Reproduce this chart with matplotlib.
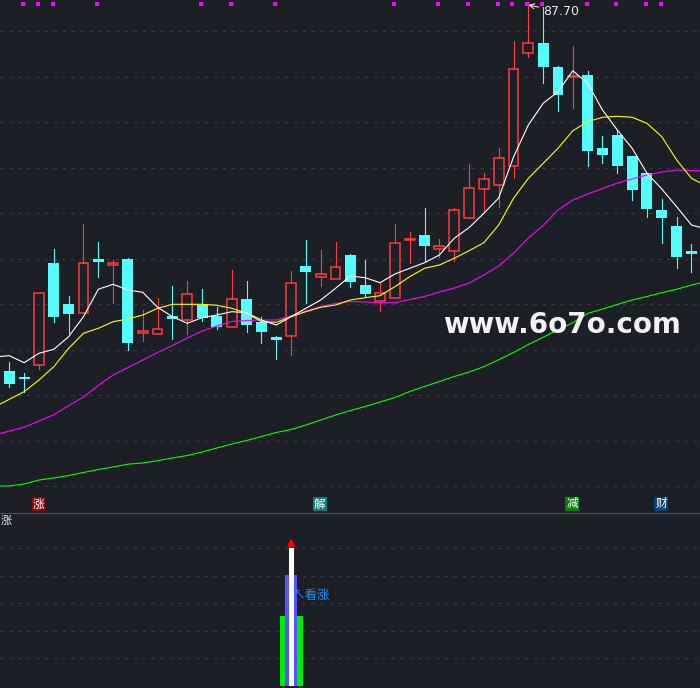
import numpy as np
import matplotlib
matplotlib.use('Agg')
import matplotlib.pyplot as plt
from matplotlib.patches import Rectangle

plt.rcParams['font.family'] = ['Noto Sans CJK SC', 'DejaVu Sans']

# daily candles, index 0 is the one cut off at the left edge
opens = [54.0, 51.1, 50.53, 51.67, 61.93, 57.8, 56.87, 62.27, 61.67, 62.3,
         54.87, 54.77, 56.6, 56.17, 57.7, 56.57, 55.47, 58.3, 56.0, 54.5,
         54.63, 61.6, 60.47, 60.27, 62.7, 59.7, 58.07, 58.37, 64.17, 64.7,
         63.27, 63.07, 66.43, 69.33, 69.67, 71.57, 82.87, 83.93, 81.53, 80.5,
         80.7, 73.4, 74.7, 72.6, 70.9, 67.2, 65.6, 63.1]
highs = [54.2, 52.0, 50.87, 58.87, 63.27, 58.6, 65.8, 64.0, 62.2, 62.4,
         57.2, 58.4, 59.6, 60.1, 59.27, 57.53, 61.2, 60.1, 56.47, 54.6,
         61.1, 64.2, 63.2, 64.0, 62.8, 62.2, 59.93, 65.8, 65.0, 67.4,
         64.33, 67.37, 71.8, 70.93, 73.4, 84.1, 87.7, 87.5, 81.63, 83.6,
         81.1, 74.6, 75.2, 72.6, 70.9, 68.3, 66.47, 63.8]
lows = [51.0, 49.53, 49.03, 51.33, 56.03, 54.93, 56.87, 60.53, 57.93, 53.2,
        54.13, 54.77, 54.27, 54.83, 56.13, 55.27, 55.47, 55.03, 53.93, 52.33,
        52.73, 57.93, 59.6, 60.27, 59.53, 58.63, 57.13, 58.37, 61.93, 62.13,
        62.47, 62.13, 66.43, 67.03, 67.53, 70.43, 82.47, 79.93, 77.13, 77.43,
        71.63, 71.93, 70.93, 68.23, 66.53, 63.93, 61.43, 61.03]
closes = [51.2, 49.8, 50.3, 58.87, 56.53, 56.83, 61.87, 62.03, 61.87, 53.93,
          55.07, 55.3, 56.27, 58.77, 56.43, 55.53, 58.27, 55.73, 55.03, 54.17,
          59.87, 61.03, 60.77, 61.47, 60.03, 58.83, 58.87, 63.87, 64.27, 63.63,
          63.6, 67.2, 69.37, 70.27, 72.37, 81.27, 83.87, 81.53, 78.7, 80.6,
          73.13, 72.73, 71.63, 69.2, 67.33, 66.43, 62.53, 62.77]

# moving averages (one extra point past the right edge)
ma5 = [52.5, 52.63, 51.93, 52.87, 53.27, 54.53, 56.53, 59.27, 59.77, 59.2,
       58.97, 57.47, 56.53, 55.87, 56.43, 56.7, 57.03, 56.93, 56.2, 55.7,
       56.53, 57.37, 58.2, 59.37, 60.6, 60.43, 59.93, 60.8, 61.37, 61.93,
       62.7, 64.37, 65.43, 66.87, 68.4, 72.5, 75.7, 77.87, 79.03, 81.13,
       79.87, 77.2, 75.2, 73.37, 70.87, 69.3, 67.53, 65.7, 65.3]
ma10 = [47.5, 48.27, 49.03, 50.2, 51.53, 53.37, 54.87, 55.37, 56.03, 56.3,
        56.7, 57.37, 57.77, 57.77, 57.77, 57.67, 57.37, 56.87, 56.03, 55.97,
        56.53, 57.03, 57.47, 57.7, 58.2, 58.43, 58.63, 59.53, 60.53, 61.37,
        61.7, 62.37, 63.13, 63.93, 65.7, 68.37, 70.37, 71.87, 73.37, 75.13,
        76.03, 76.47, 76.57, 76.47, 75.87, 74.53, 72.2, 70.37, 69.6]
ma20 = [44.7, 45.1, 45.47, 46.1, 46.73, 47.63, 48.5, 49.65, 50.7, 51.45,
        52.2, 52.95, 53.65, 54.4, 55.1, 55.6, 56.05, 56.15, 56.2, 56.2,
        56.6, 57.1, 57.55, 57.85, 58.05, 58.0, 57.93, 57.93, 58.25, 58.55,
        59.0, 59.4, 59.9, 60.7, 61.6, 62.9, 64.4, 65.65, 67.2, 68.2,
        68.8, 69.35, 69.9, 70.3, 70.7, 71.0, 71.2, 71.15, 71.1]
ma60 = [39.6, 39.6, 39.8, 40.2, 40.4, 40.65, 40.95, 41.25, 41.5, 41.78,
        41.9, 42.13, 42.4, 42.65, 43.0, 43.4, 43.8, 44.15, 44.55, 44.95,
        45.25, 45.7, 46.2, 46.7, 47.15, 47.55, 48.0, 48.45, 49.05, 49.55,
        50.05, 50.55, 51.0, 51.53, 52.23, 52.95, 53.75, 54.47, 55.23, 55.93,
        56.85, 57.3, 57.75, 58.2, 58.55, 58.93, 59.27, 59.7, 60.05]

signal_idx = [2, 3, 4, 7, 14, 16, 19, 27, 30, 32, 34, 35, 36, 37, 40, 42, 44, 45]
label_idx = [3, 22, 39, 45]
label_text = ['涨', '解', '减', '财']
label_bg = ['#8b0a0a', '#0a7f80', '#0a7f0a', '#10407a']
grid_prices = [85.1, 80.55, 76.0, 71.45, 66.9, 62.35, 57.8, 53.25, 48.7, 44.15, 39.6]

bar_idx = 20
bar_green = 2.54
bar_blue = 4.02
bar_white = 5.0
peak_idx = 36
peak_price = 87.70

bg = '#1c1f26'
red = '#ff3b3b'
cyan = '#54fcfc'
grid_c = '#353944'

fig = plt.figure(figsize=(7, 6.88), dpi=100, facecolor=bg)
ax = fig.add_axes([0, 176 / 688, 1, 512 / 688], facecolor=bg)
ax2 = fig.add_axes([0, 0, 1, 175 / 688], facecolor=bg, sharex=ax)

for a in (ax, ax2):
    for s in a.spines.values():
        s.set_visible(False)
    a.tick_params(left=False, bottom=False, labelleft=False, labelbottom=False)

ax.set_xlim(0.373, 47.575)
ax.set_ylim(37.0, 88.2)
ax2.set_ylim(-0.07, 6.27)

for p in grid_prices:
    ax.axhline(p, color=grid_c, lw=0.8, dashes=(3, 5), zorder=0)
for g in [1, 2, 3, 4, 5]:
    ax2.axhline(g, color=grid_c, lw=0.8, dashes=(3, 5), zorder=0)

# candles
for i in range(len(opens)):
    o, h, l, c = opens[i], highs[i], lows[i], closes[i]
    if c >= o:
        top, bot = c, o
        ax.plot([i, i], [top, h], color=red, lw=0.8, zorder=3)
        ax.plot([i, i], [l, bot], color=red, lw=0.8, zorder=3)
        ax.add_patch(Rectangle((i - 0.33, bot), 0.66, max(top - bot, 0.05),
                               facecolor='none', edgecolor=red, lw=1.1, zorder=3))
    else:
        ax.plot([i, i], [l, h], color=cyan, lw=0.8, zorder=3)
        ax.add_patch(Rectangle((i - 0.37, c), 0.74, max(o - c, 0.15),
                               facecolor=cyan, edgecolor='none', zorder=3))

xs = np.arange(len(ma5))
ax.plot(xs, ma60, color='#00ff00', lw=0.8, zorder=4)
ax.plot(xs, ma20, color='#ff00ff', lw=0.8, zorder=4)
ax.plot(xs, ma10, color='#ffff00', lw=0.8, zorder=4)
ax.plot(xs, ma5, color='white', lw=0.8, zorder=5)

ax.scatter(np.array(signal_idx) - 0.07, [0.9916] * len(signal_idx),
           transform=ax.get_xaxis_transform(), marker='s', s=9,
           color='#ff00ff', linewidths=0, zorder=6, clip_on=False)

ax.annotate('%.2f' % peak_price, xy=(peak_idx, peak_price),
            xytext=(10.4, -4.8), textcoords='offset points',
            ha='left', va='center', color='#e8e8e8', fontsize=9,
            family='DejaVu Sans',
            arrowprops=dict(arrowstyle='->', color='white', lw=0.7,
                            shrinkA=1, shrinkB=0), zorder=7)

for i, t, b in zip(label_idx, label_text, label_bg):
    ax.text(i - 0.05, 0.003, t, transform=ax.get_xaxis_transform(),
            ha='center', va='bottom', color='white', fontsize=8.5,
            bbox=dict(facecolor=b, edgecolor='none', pad=0.6), zorder=7)

ax.text(0.633, 0.349, 'www.6o7o.com', transform=ax.transAxes,
        ha='left', va='baseline', color='#f2f2f2', fontsize=20,
        fontweight='bold', family='DejaVu Sans', zorder=8)

# lower indicator panel
ax2.axhline(6.27, color='#4a4f5a', lw=1.5, zorder=1)
ax2.bar(bar_idx, bar_green, width=1.55, bottom=0, color='#00ee00', zorder=2)
ax2.bar(bar_idx, bar_blue, width=0.86, bottom=0, color='#5555ff', zorder=3)
ax2.bar(bar_idx, bar_white, width=0.34, bottom=0, color='white', zorder=4)
ax2.annotate('', xy=(bar_idx, bar_white + 0.45), xytext=(bar_idx, bar_white - 0.02),
             arrowprops=dict(arrowstyle='-|>', color='#ff0000', lw=1.6,
                             mutation_scale=10), zorder=5)
ax2.text(bar_idx + 0.11, 3.3, '↖看涨', color='#1e90ff', fontsize=9,
         ha='left', va='center', zorder=6)
ax2.text(0.001, 0.985, '涨', transform=ax2.transAxes, color='#e8e8e8',
         fontsize=8, ha='left', va='top')

fig.savefig('out.png', dpi=100, facecolor=bg)
